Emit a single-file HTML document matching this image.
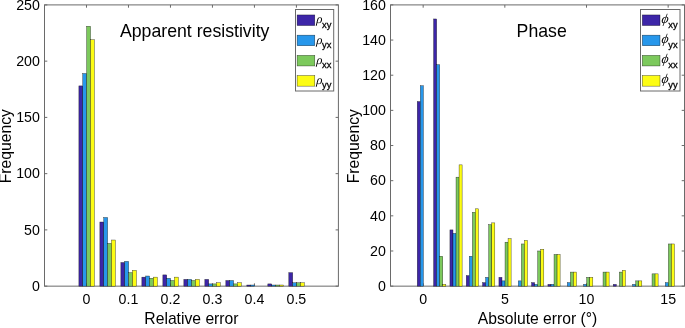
<!DOCTYPE html>
<html lang="en"><head><meta charset="utf-8"><title>Histograms</title>
<style>html,body{margin:0;padding:0;background:#fff}body{width:685px;height:328px;overflow:hidden}svg{display:block}</style></head>
<body>
<svg width="685" height="328" viewBox="0 0 685 328" font-family="'Liberation Sans',Arial,Helvetica,sans-serif" fill="#000">
<rect width="685" height="328" fill="#fff"/>
<path d="M86.49 286.15v-2.8M86.49 4.9v2.8M128.47 286.15v-2.8M128.47 4.9v2.8M170.46 286.15v-2.8M170.46 4.9v2.8M212.44 286.15v-2.8M212.44 4.9v2.8M254.43 286.15v-2.8M254.43 4.9v2.8M296.41 286.15v-2.8M296.41 4.9v2.8M44.5 286.15h2.8M338.4 286.15h-2.8M44.5 229.90h2.8M338.4 229.90h-2.8M44.5 173.65h2.8M338.4 173.65h-2.8M44.5 117.40h2.8M338.4 117.40h-2.8M44.5 61.15h2.8M338.4 61.15h-2.8M44.5 4.90h2.8M338.4 4.90h-2.8" stroke="#6a6a6a" stroke-width="1.0" fill="none"/>
<rect x="44.5" y="4.9" width="293.9" height="281.25" fill="none" stroke="#6a6a6a" stroke-width="1.0"/>
<g fill="#3D26A8" stroke="#000" stroke-opacity="0.75" stroke-width="0.45"><rect x="78.89" y="85.90" width="3.88" height="200.25"/><rect x="99.88" y="222.02" width="3.88" height="64.12"/><rect x="120.87" y="262.52" width="3.88" height="23.62"/><rect x="141.86" y="277.15" width="3.88" height="9.00"/><rect x="162.86" y="274.90" width="3.88" height="11.25"/><rect x="183.85" y="279.40" width="3.88" height="6.75"/><rect x="204.84" y="279.40" width="3.88" height="6.75"/><rect x="225.84" y="280.52" width="3.88" height="5.62"/><rect x="246.83" y="285.02" width="3.88" height="1.12"/><rect x="267.82" y="283.90" width="3.88" height="2.25"/><rect x="288.81" y="272.65" width="3.88" height="13.50"/></g>
<g fill="#2797EB" stroke="#000" stroke-opacity="0.75" stroke-width="0.45"><rect x="82.76" y="73.52" width="3.88" height="212.62"/><rect x="103.75" y="217.52" width="3.88" height="68.62"/><rect x="124.75" y="261.40" width="3.88" height="24.75"/><rect x="145.74" y="276.02" width="3.88" height="10.12"/><rect x="166.73" y="278.27" width="3.88" height="7.88"/><rect x="187.73" y="279.40" width="3.88" height="6.75"/><rect x="208.72" y="283.90" width="3.88" height="2.25"/><rect x="229.71" y="280.52" width="3.88" height="5.62"/><rect x="250.70" y="285.02" width="3.88" height="1.12"/><rect x="271.70" y="285.02" width="3.88" height="1.12"/><rect x="292.69" y="282.77" width="3.88" height="3.38"/></g>
<g fill="#7CC95C" stroke="#000" stroke-opacity="0.75" stroke-width="0.45"><rect x="86.64" y="26.27" width="3.88" height="259.88"/><rect x="107.63" y="243.40" width="3.88" height="42.75"/><rect x="128.62" y="272.65" width="3.88" height="13.50"/><rect x="149.61" y="278.27" width="3.88" height="7.88"/><rect x="170.61" y="280.52" width="3.88" height="5.62"/><rect x="191.60" y="280.52" width="3.88" height="5.62"/><rect x="212.59" y="283.90" width="3.88" height="2.25"/><rect x="233.59" y="283.90" width="3.88" height="2.25"/><rect x="275.57" y="285.02" width="3.88" height="1.12"/><rect x="296.56" y="282.77" width="3.88" height="3.38"/></g>
<g fill="#FCFC14" stroke="#000" stroke-opacity="0.75" stroke-width="0.45"><rect x="90.51" y="39.77" width="3.88" height="246.38"/><rect x="111.50" y="240.02" width="3.88" height="46.12"/><rect x="132.50" y="270.40" width="3.88" height="15.75"/><rect x="153.49" y="277.15" width="3.88" height="9.00"/><rect x="174.48" y="277.15" width="3.88" height="9.00"/><rect x="195.48" y="279.40" width="3.88" height="6.75"/><rect x="216.47" y="282.77" width="3.88" height="3.38"/><rect x="237.46" y="282.77" width="3.88" height="3.38"/><rect x="279.45" y="285.02" width="3.88" height="1.12"/><rect x="300.44" y="282.77" width="3.88" height="3.38"/></g>
<g font-size="14.2" text-anchor="middle">
<text x="86.49" y="304.3">0</text>
<text x="128.47" y="304.3">0.1</text>
<text x="170.46" y="304.3">0.2</text>
<text x="212.44" y="304.3">0.3</text>
<text x="254.43" y="304.3">0.4</text>
<text x="296.41" y="304.3">0.5</text>
</g>
<g font-size="14.2" text-anchor="end">
<text x="39.90" y="290.85">0</text>
<text x="39.90" y="234.60">50</text>
<text x="39.90" y="178.35">100</text>
<text x="39.90" y="122.10">150</text>
<text x="39.90" y="65.85">200</text>
<text x="39.90" y="9.60">250</text>
</g>
<text x="191.45" y="324.3" font-size="15.7" text-anchor="middle">Relative error</text>
<text x="194.7" y="36.9" font-size="17.7" text-anchor="middle">Apparent resistivity</text>
<text transform="translate(11.2 146.2) rotate(-90)" font-size="15.7" text-anchor="middle">Frequency</text>
<rect x="295.5" y="9.5" width="38.19999999999999" height="81.5" fill="#fff" stroke="#6a6a6a" stroke-width="1.0"/>
<rect x="297.1" y="14.95" width="17.7" height="10.6" fill="#3D26A8" stroke="#000" stroke-opacity="0.75" stroke-width="0.45"/>
<text transform="translate(316.3 23.35) skewX(-4)" font-size="12.4" font-style="italic" font-family="'Liberation Serif','DejaVu Serif',serif">ρ</text>
<text x="322.0" y="27.85" font-size="9.4" stroke="#000" stroke-width="0.28">xy</text>
<rect x="297.1" y="35.15" width="17.7" height="10.6" fill="#2797EB" stroke="#000" stroke-opacity="0.75" stroke-width="0.45"/>
<text transform="translate(316.3 43.55) skewX(-4)" font-size="12.4" font-style="italic" font-family="'Liberation Serif','DejaVu Serif',serif">ρ</text>
<text x="322.0" y="48.05" font-size="9.4" stroke="#000" stroke-width="0.28">yx</text>
<rect x="297.1" y="55.35" width="17.7" height="10.6" fill="#7CC95C" stroke="#000" stroke-opacity="0.75" stroke-width="0.45"/>
<text transform="translate(316.3 63.75) skewX(-4)" font-size="12.4" font-style="italic" font-family="'Liberation Serif','DejaVu Serif',serif">ρ</text>
<text x="322.0" y="68.25" font-size="9.4" stroke="#000" stroke-width="0.28">xx</text>
<rect x="297.1" y="75.55" width="17.7" height="10.6" fill="#FCFC14" stroke="#000" stroke-opacity="0.75" stroke-width="0.45"/>
<text transform="translate(316.3 83.95) skewX(-4)" font-size="12.4" font-style="italic" font-family="'Liberation Serif','DejaVu Serif',serif">ρ</text>
<text x="322.0" y="88.45" font-size="9.4" stroke="#000" stroke-width="0.28">yy</text>
<path d="M423.17 286.15v-2.8M423.17 4.9v2.8M504.83 286.15v-2.8M504.83 4.9v2.8M586.50 286.15v-2.8M586.50 4.9v2.8M668.17 286.15v-2.8M668.17 4.9v2.8M390.5 286.15h2.8M684.5 286.15h-2.8M390.5 250.99h2.8M684.5 250.99h-2.8M390.5 215.84h2.8M684.5 215.84h-2.8M390.5 180.68h2.8M684.5 180.68h-2.8M390.5 145.52h2.8M684.5 145.52h-2.8M390.5 110.37h2.8M684.5 110.37h-2.8M390.5 75.21h2.8M684.5 75.21h-2.8M390.5 40.06h2.8M684.5 40.06h-2.8M390.5 4.90h2.8M684.5 4.90h-2.8" stroke="#6a6a6a" stroke-width="1.0" fill="none"/>
<rect x="390.5" y="4.9" width="294.0" height="281.25" fill="none" stroke="#6a6a6a" stroke-width="1.0"/>
<g fill="#3D26A8" stroke="#000" stroke-opacity="0.75" stroke-width="0.45"><rect x="417.27" y="101.58" width="3.05" height="184.57"/><rect x="433.60" y="18.96" width="3.05" height="267.19"/><rect x="449.93" y="229.90" width="3.05" height="56.25"/><rect x="466.27" y="275.60" width="3.05" height="10.55"/><rect x="482.60" y="282.63" width="3.05" height="3.52"/><rect x="498.93" y="277.36" width="3.05" height="8.79"/><rect x="531.60" y="282.63" width="3.05" height="3.52"/><rect x="547.93" y="284.39" width="3.05" height="1.76"/><rect x="613.27" y="284.39" width="3.05" height="1.76"/></g>
<g fill="#2797EB" stroke="#000" stroke-opacity="0.75" stroke-width="0.45"><rect x="420.32" y="85.76" width="3.05" height="200.39"/><rect x="436.65" y="64.67" width="3.05" height="221.48"/><rect x="452.98" y="233.42" width="3.05" height="52.73"/><rect x="469.32" y="256.27" width="3.05" height="29.88"/><rect x="485.65" y="277.36" width="3.05" height="8.79"/><rect x="501.98" y="280.88" width="3.05" height="5.27"/><rect x="518.32" y="280.88" width="3.05" height="5.27"/><rect x="534.65" y="284.39" width="3.05" height="1.76"/><rect x="550.98" y="284.39" width="3.05" height="1.76"/><rect x="567.32" y="282.63" width="3.05" height="3.52"/><rect x="583.65" y="284.39" width="3.05" height="1.76"/><rect x="632.65" y="284.39" width="3.05" height="1.76"/><rect x="665.32" y="282.63" width="3.05" height="3.52"/></g>
<g fill="#7CC95C" stroke="#000" stroke-opacity="0.75" stroke-width="0.45"><rect x="439.70" y="256.27" width="3.05" height="29.88"/><rect x="456.03" y="177.17" width="3.05" height="108.98"/><rect x="472.37" y="212.32" width="3.05" height="73.83"/><rect x="488.70" y="224.63" width="3.05" height="61.52"/><rect x="505.03" y="242.20" width="3.05" height="43.95"/><rect x="521.37" y="243.96" width="3.05" height="42.19"/><rect x="537.70" y="250.99" width="3.05" height="35.16"/><rect x="554.03" y="254.51" width="3.05" height="31.64"/><rect x="570.37" y="272.09" width="3.05" height="14.06"/><rect x="586.70" y="277.36" width="3.05" height="8.79"/><rect x="603.03" y="272.09" width="3.05" height="14.06"/><rect x="619.37" y="272.09" width="3.05" height="14.06"/><rect x="635.70" y="280.88" width="3.05" height="5.27"/><rect x="652.03" y="273.85" width="3.05" height="12.30"/><rect x="668.37" y="243.96" width="3.05" height="42.19"/></g>
<g fill="#FCFC14" stroke="#000" stroke-opacity="0.75" stroke-width="0.45"><rect x="442.75" y="284.39" width="3.05" height="1.76"/><rect x="459.08" y="164.86" width="3.05" height="121.29"/><rect x="475.42" y="208.81" width="3.05" height="77.34"/><rect x="491.75" y="222.87" width="3.05" height="63.28"/><rect x="508.08" y="238.69" width="3.05" height="47.46"/><rect x="524.42" y="240.45" width="3.05" height="45.70"/><rect x="540.75" y="249.24" width="3.05" height="36.91"/><rect x="557.08" y="254.51" width="3.05" height="31.64"/><rect x="573.42" y="272.09" width="3.05" height="14.06"/><rect x="589.75" y="277.36" width="3.05" height="8.79"/><rect x="606.08" y="272.09" width="3.05" height="14.06"/><rect x="622.42" y="270.33" width="3.05" height="15.82"/><rect x="638.75" y="280.88" width="3.05" height="5.27"/><rect x="655.08" y="273.85" width="3.05" height="12.30"/><rect x="671.42" y="243.96" width="3.05" height="42.19"/></g>
<g font-size="14.2" text-anchor="middle">
<text x="423.17" y="304.3">0</text>
<text x="504.83" y="304.3">5</text>
<text x="586.50" y="304.3">10</text>
<text x="668.17" y="304.3">15</text>
</g>
<g font-size="14.2" text-anchor="end">
<text x="385.90" y="290.85">0</text>
<text x="385.90" y="255.69">20</text>
<text x="385.90" y="220.54">40</text>
<text x="385.90" y="185.38">60</text>
<text x="385.90" y="150.22">80</text>
<text x="385.90" y="115.07">100</text>
<text x="385.90" y="79.91">120</text>
<text x="385.90" y="44.76">140</text>
<text x="385.90" y="9.60">160</text>
</g>
<text x="537.50" y="324.3" font-size="15.7" text-anchor="middle">Absolute error (°)</text>
<text x="541.7" y="36.9" font-size="17.7" text-anchor="middle">Phase</text>
<text transform="translate(358.7 146.2) rotate(-90)" font-size="15.7" text-anchor="middle">Frequency</text>
<rect x="640.5" y="9.5" width="39.5" height="81.5" fill="#fff" stroke="#6a6a6a" stroke-width="1.0"/>
<rect x="642.3" y="14.95" width="17.7" height="10.6" fill="#3D26A8" stroke="#000" stroke-opacity="0.75" stroke-width="0.45"/>
<text transform="translate(661.0 22.55) skewX(-10)" font-size="13.5" font-style="italic" font-family="'Liberation Serif','DejaVu Serif',serif">ϕ</text>
<text x="668.3" y="27.85" font-size="9.4" stroke="#000" stroke-width="0.28">xy</text>
<rect x="642.3" y="35.15" width="17.7" height="10.6" fill="#2797EB" stroke="#000" stroke-opacity="0.75" stroke-width="0.45"/>
<text transform="translate(661.0 42.75) skewX(-10)" font-size="13.5" font-style="italic" font-family="'Liberation Serif','DejaVu Serif',serif">ϕ</text>
<text x="668.3" y="48.05" font-size="9.4" stroke="#000" stroke-width="0.28">yx</text>
<rect x="642.3" y="55.35" width="17.7" height="10.6" fill="#7CC95C" stroke="#000" stroke-opacity="0.75" stroke-width="0.45"/>
<text transform="translate(661.0 62.95) skewX(-10)" font-size="13.5" font-style="italic" font-family="'Liberation Serif','DejaVu Serif',serif">ϕ</text>
<text x="668.3" y="68.25" font-size="9.4" stroke="#000" stroke-width="0.28">xx</text>
<rect x="642.3" y="75.55" width="17.7" height="10.6" fill="#FCFC14" stroke="#000" stroke-opacity="0.75" stroke-width="0.45"/>
<text transform="translate(661.0 83.15) skewX(-10)" font-size="13.5" font-style="italic" font-family="'Liberation Serif','DejaVu Serif',serif">ϕ</text>
<text x="668.3" y="88.45" font-size="9.4" stroke="#000" stroke-width="0.28">yy</text>
</svg>
</body></html>
